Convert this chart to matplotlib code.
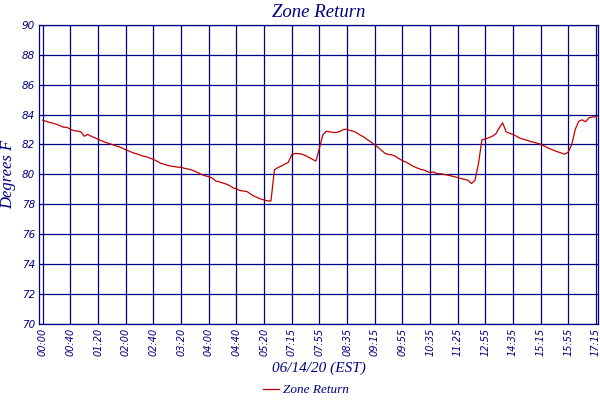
import numpy as np
import matplotlib
matplotlib.use('Agg')
import matplotlib.pyplot as plt

# Zone return temperature, one reading per sample (labels every 8 samples)
tick_labels = ['00:00', '00:40', '01:20', '02:00', '02:40', '03:20', '04:00',
               '04:40', '05:20', '07:15', '07:55', '08:35', '09:15', '09:55',
               '10:35', '11:25', '12:55', '14:35', '15:15', '15:55', '17:15']

zone_return = [
    83.62, 83.55, 83.47, 83.42, 83.35, 83.25, 83.15, 83.15,
    83.02, 82.92, 82.90, 82.85, 82.55, 82.67, 82.55, 82.45,
    82.35, 82.25, 82.15, 82.08, 82.00, 81.92, 81.85, 81.75,
    81.65, 81.55, 81.45, 81.38, 81.30, 81.22, 81.17, 81.08,
    81.00, 80.88, 80.75, 80.68, 80.60, 80.55, 80.52, 80.48,
    80.47, 80.40, 80.35, 80.30, 80.20, 80.10, 79.98, 79.90,
    79.84, 79.75, 79.55, 79.50, 79.42, 79.35, 79.25, 79.10,
    79.02, 78.92, 78.88, 78.85, 78.70, 78.55, 78.45, 78.35,
    78.28, 78.22, 78.22, 80.30, 80.45, 80.55, 80.68, 80.80,
    81.30, 81.40, 81.38, 81.35, 81.25, 81.13, 81.00, 80.89,
    81.73, 82.65, 82.88, 82.85, 82.80, 82.80, 82.88, 83.00,
    83.02, 82.92, 82.88, 82.75, 82.60, 82.48, 82.30, 82.15,
    81.97, 81.80, 81.60, 81.40, 81.33, 81.30, 81.20, 81.05,
    80.92, 80.82, 80.70, 80.55, 80.45, 80.35, 80.30, 80.20,
    80.12, 80.15, 80.05, 80.04, 80.00, 79.95, 79.90, 79.84,
    79.78, 79.72, 79.66, 79.60, 79.38, 79.60, 80.70, 82.30,
    82.38, 82.45, 82.55, 82.70, 83.10, 83.45, 82.85, 82.75,
    82.67, 82.55, 82.42, 82.35, 82.28, 82.20, 82.15, 82.08,
    82.02, 81.90, 81.78, 81.68, 81.58, 81.50, 81.42, 81.35,
    81.50, 82.00, 83.00, 83.55, 83.65, 83.52, 83.80, 83.84,
    83.85,
]

navy = '#000080'
red = '#c00000'
serif = ['Liberation Serif', 'DejaVu Serif']

fig = plt.figure(figsize=(6, 4), dpi=100)
ax = fig.add_axes([0.0655, 0.191, 0.9307, 0.7465])

x = np.arange(len(zone_return))
ax.plot(x, zone_return, color=red, linewidth=0.9, label='Zone Return')

ax.set_xlim(-1, 160.5)
ax.set_ylim(70, 90)
ax.set_xticks(np.arange(0, len(zone_return), 8))
ax.set_xticklabels(tick_labels, rotation=90, fontsize=7, style='italic', color=navy)
ax.set_yticks(np.arange(70, 91, 2))
ax.set_yticklabels([str(v) for v in range(70, 91, 2)], fontsize=7.5, style='italic', color=navy)
ax.tick_params(length=0, pad=3)
ax.grid(True, color=navy, linewidth=0.9)
ax.set_axisbelow(True)
for s in ax.spines.values():
    s.set_color(navy)
    s.set_linewidth(0.9)

ax.set_title('Zone Return', fontsize=13.5, style='italic',
             color=navy, family=serif, pad=6)
ax.set_xlabel('06/14/20 (EST)', fontsize=11, style='italic', color=navy,
              family=serif, labelpad=4)
ax.set_ylabel('Degrees F', fontsize=12, style='italic',
              color=navy, family=serif, labelpad=4)

leg = fig.legend(loc='lower center', bbox_to_anchor=(0.51, -0.02), frameon=False,
                 handlelength=1.2, handletextpad=0.3,
                 prop={'family': serif, 'style': 'italic', 'size': 9.5})
for t in leg.get_texts():
    t.set_color(navy)

fig.savefig('out.png', dpi=100)
